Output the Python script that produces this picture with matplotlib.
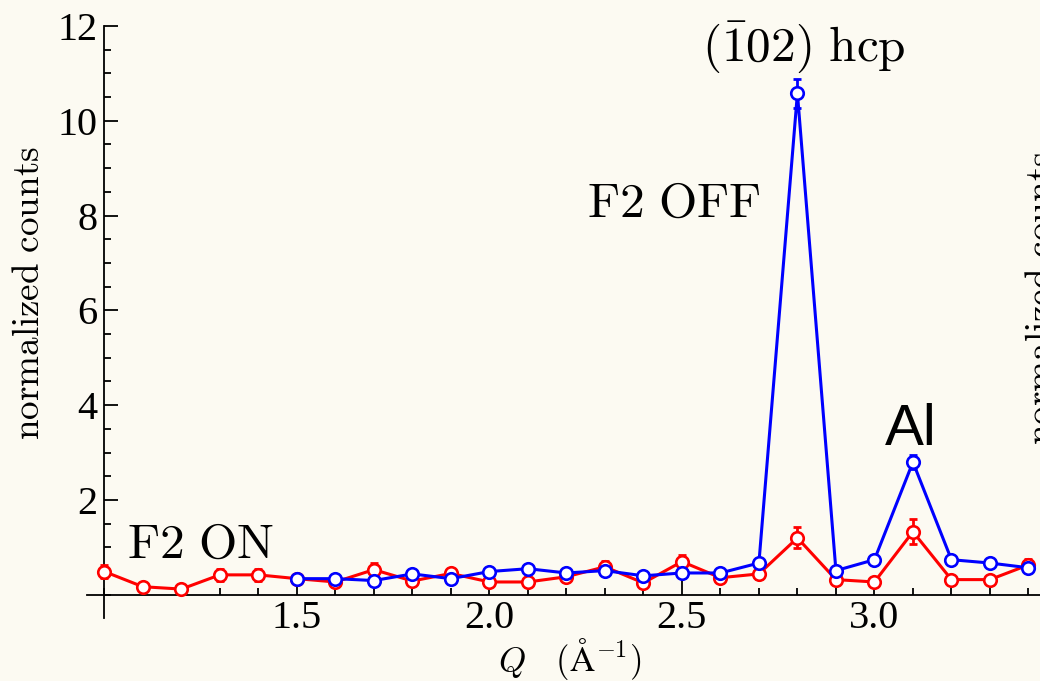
import matplotlib.pyplot as plt
from matplotlib.ticker import FixedLocator, MultipleLocator, FormatStrFormatter

plt.rcParams['font.family'] = 'Liberation Serif'
plt.rcParams['mathtext.fontset'] = 'cm'

# F2 ON (red) and F2 OFF (blue) scans
q_on = [1.0, 1.1, 1.2, 1.3, 1.4, 1.5, 1.6, 1.7, 1.8, 1.9, 2.0, 2.1, 2.2,
        2.3, 2.4, 2.5, 2.6, 2.7, 2.8, 2.9, 3.0, 3.1, 3.2, 3.3, 3.4]
counts_on = [0.49, 0.17, 0.12, 0.42, 0.42, 0.34, 0.27, 0.53, 0.29, 0.45,
             0.27, 0.27, 0.38, 0.59, 0.25, 0.70, 0.36, 0.44, 1.20, 0.32,
             0.27, 1.33, 0.32, 0.32, 0.63]
err_on = [0.13, 0.06, 0.06, 0.12, 0.12, 0.08, 0.08, 0.14, 0.08, 0.10,
          0.08, 0.08, 0.08, 0.13, 0.08, 0.14, 0.08, 0.10, 0.22, 0.08,
          0.08, 0.26, 0.08, 0.08, 0.13]

q_off = [1.5, 1.6, 1.7, 1.8, 1.9, 2.0, 2.1, 2.2, 2.3, 2.4, 2.5, 2.6, 2.7,
         2.8, 2.9, 3.0, 3.1, 3.2, 3.3, 3.4]
counts_off = [0.34, 0.34, 0.30, 0.44, 0.34, 0.49, 0.55, 0.46, 0.51, 0.40,
              0.46, 0.46, 0.67, 10.58, 0.51, 0.74, 2.80, 0.74, 0.67, 0.57]
err_off = [0.06, 0.06, 0.06, 0.06, 0.06, 0.06, 0.06, 0.06, 0.06, 0.06,
           0.06, 0.06, 0.08, 0.30, 0.06, 0.06, 0.14, 0.06, 0.06, 0.06]

x_major = [1.5, 2.0, 2.5, 3.0]
y_major = [2, 4, 6, 8, 10, 12]

bg = '#fcfaf2'

fig = plt.figure(figsize=(10.4, 6.81), dpi=100, facecolor=bg)
ax = fig.add_axes([87 / 1040, 63 / 681, 953 / 1040, 592 / 681])
ax.set_facecolor(bg)

for q, c, e, col, z in [(q_on, counts_on, err_on, 'red', 3),
                        (q_off, counts_off, err_off, 'blue', 5)]:
    ax.errorbar(q, c, yerr=e, fmt='none', ecolor=col, elinewidth=2,
                capsize=3, capthick=2, zorder=z)
    ax.plot(q, c, '-o', color=col, lw=2.2, ms=9, mfc='white', mec=col,
            mew=1.9, zorder=z + 1, clip_on=False)

ax.set_xlim(0.955, 3.43)
ax.set_ylim(-0.49, 12)

# Mathematica-style crossing axes at (1, 0)
for side in ['top', 'right']:
    ax.spines[side].set_visible(False)
ax.spines['left'].set_position(('data', 1.0))
ax.spines['bottom'].set_position(('data', 0.0))
for side in ['left', 'bottom']:
    ax.spines[side].set_linewidth(1.3)

ax.xaxis.set_major_locator(FixedLocator(x_major))
ax.xaxis.set_minor_locator(MultipleLocator(0.1))
ax.xaxis.set_major_formatter(FormatStrFormatter('%.1f'))
ax.yaxis.set_major_locator(FixedLocator(y_major))
ax.yaxis.set_minor_locator(MultipleLocator(0.5))
ax.tick_params(which='both', direction='in', width=1.3, labelsize=29)
ax.tick_params(which='major', length=10)
ax.tick_params(which='minor', length=5)
ax.tick_params(axis='x', pad=4)
ax.tick_params(axis='y', pad=5)

ax.text(0.506, -0.09, r'$Q\quad(\mathrm{\AA}^{-1})$', transform=ax.transAxes,
        ha='center', va='baseline', fontsize=25)
fig.text(0.029, 0.570, r'$\mathrm{normalized\ counts}$', rotation=90,
         ha='center', va='center', fontsize=26.7)
# neighbouring panel's axis label, cut by the figure edge
fig.text(1025 / 1040, 0.562, r'$\mathrm{normalized\ counts}$', rotation=90,
         ha='left', va='center', fontsize=26.7)

ax.text(1.058, 0.78, r'$\mathrm{F2\ ON}$', fontsize=35.5, va='baseline')
ax.text(2.253, 7.97, r'$\mathrm{F2\ OFF}$', fontsize=35.5, va='baseline')
ax.text(2.552, 11.24, r'$(\bar{1}02)\ \mathrm{hcp}$', fontsize=35.5,
        va='baseline', clip_on=False)
ax.text(3.027, 3.16, 'Al', fontsize=42, family='Liberation Sans',
        va='baseline')

fig.savefig('out.png', dpi=100, facecolor=bg)
